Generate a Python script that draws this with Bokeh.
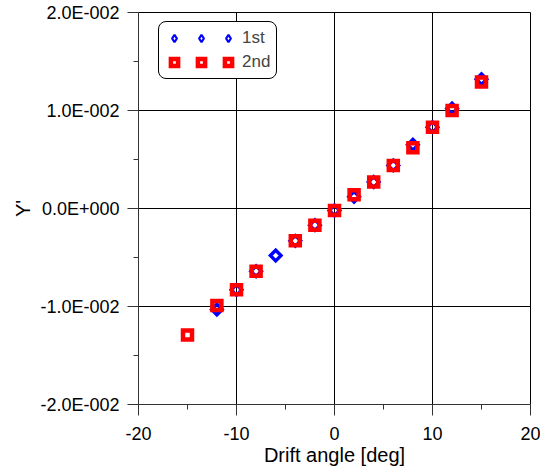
import numpy as np
from bokeh.plotting import figure
from bokeh.models import Range1d, FixedTicker, Legend, LegendItem
from bokeh.embed import file_html
from bokeh.resources import INLINE

# ---- data ----
angle_1st = [-12, -10, -8, -6, -4, -2, 0, 2, 4, 6, 8, 10, 12, 15]
y_1st = [-0.0103, -0.0083, -0.0064, -0.0048, -0.0033, -0.0017, -0.0002,
         0.0012, 0.0027, 0.0044, 0.0065, 0.0083, 0.0102, 0.0132]
angle_2nd = [-15, -12, -10, -8, -4, -2, 0, 2, 4, 6, 8, 10, 12, 15]
y_2nd = [-0.0129, -0.0099, -0.0083, -0.0064, -0.0033, -0.0017, -0.0002,
         0.0014, 0.0027, 0.0044, 0.0062, 0.0083, 0.0100, 0.0129]

x_ticks = [-20, -10, 0, 10, 20]
x_minor = [-15, -5, 5, 15]
x_tick_labels = ["-20", "-10", "0", "10", "20"]
y_ticks = [-0.02, -0.01, 0.0, 0.01, 0.02]
y_minor = [-0.015, -0.005, 0.005, 0.015]
y_tick_labels = ["-2.0E-002", "-1.0E-002", "0.0E+000", "1.0E-002", "2.0E-002"]

FONT = "Liberation Sans"

p = figure(width=540, height=470, x_range=Range1d(-20, 20), y_range=Range1d(-0.02, 0.02),
           output_backend="svg", toolbar_location=None,
           min_border_left=138, min_border_right=10, min_border_top=12, min_border_bottom=66)

p.outline_line_color = "black"
p.outline_line_alpha = 1.0

p.xaxis.ticker = FixedTicker(ticks=x_ticks, minor_ticks=x_minor)
p.yaxis.ticker = FixedTicker(ticks=y_ticks, minor_ticks=y_minor)
p.xgrid.ticker = FixedTicker(ticks=x_ticks)
p.ygrid.ticker = FixedTicker(ticks=y_ticks)
p.xaxis.major_label_overrides = dict(zip(x_ticks, x_tick_labels))
p.yaxis.major_label_overrides = dict(zip(y_ticks, y_tick_labels))

for g in (p.xgrid, p.ygrid):
    g.grid_line_color = "black"
    g.grid_line_alpha = 1.0
    g.grid_line_width = 1

for ax in (p.xaxis, p.yaxis):
    ax.axis_line_color = "#333333"
    ax.major_tick_line_color = "#333333"
    ax.minor_tick_line_color = "#333333"
    ax.major_tick_out = 11
    ax.major_tick_in = 0
    ax.minor_tick_out = 5
    ax.minor_tick_in = 0
    ax.major_label_text_font = FONT
    ax.major_label_text_font_size = "18px"
    ax.major_label_text_color = "black"
    ax.axis_label_text_font = FONT
    ax.axis_label_text_font_size = "20px"
    ax.axis_label_text_font_style = "normal"
    ax.axis_label_text_color = "black"

p.xaxis.axis_label = "Drift angle [deg]"
p.yaxis.axis_label = "Y'"
p.xaxis.major_label_standoff = 11
p.yaxis.major_label_standoff = 8
p.xaxis.axis_label_standoff = 1
p.yaxis.axis_label_standoff = 3

r1 = p.scatter(angle_1st, y_1st, marker="square", angle=np.pi / 4, size=7.5,
               fill_alpha=0, line_color="blue", line_width=3.4, line_join="miter")
r2 = p.scatter(angle_2nd, y_2nd, marker="square", size=9,
               fill_alpha=0, line_color="red", line_width=4.5, line_join="miter")
# legend-only glyph for the 1st series (diamond symbol in the key)
r1_key = p.scatter(angle_1st, y_1st, marker="diamond", size=9,
                   fill_alpha=0, line_color="blue", line_width=2.2,
                   visible=False)

items = [LegendItem(label=" ", renderers=[r1_key]), LegendItem(label=" ", renderers=[r1_key]),
         LegendItem(label="1st", renderers=[r1_key]),
         LegendItem(label=" ", renderers=[r2]), LegendItem(label=" ", renderers=[r2]),
         LegendItem(label="2nd", renderers=[r2])]
legend = Legend(items=items, orientation="horizontal", ncols=3, location=(20, 325),
                glyph_width=18, glyph_height=18, label_standoff=5, spacing=4,
                padding=6, margin=0, label_width=0, label_height=0,
                label_text_font=FONT, label_text_font_size="17px",
                border_line_color="black", border_line_alpha=1.0, border_line_width=1,
                border_radius=8,
                background_fill_color="white", background_fill_alpha=1.0)
p.add_layout(legend)

open("out.html", "w").write(file_html(p, INLINE))
